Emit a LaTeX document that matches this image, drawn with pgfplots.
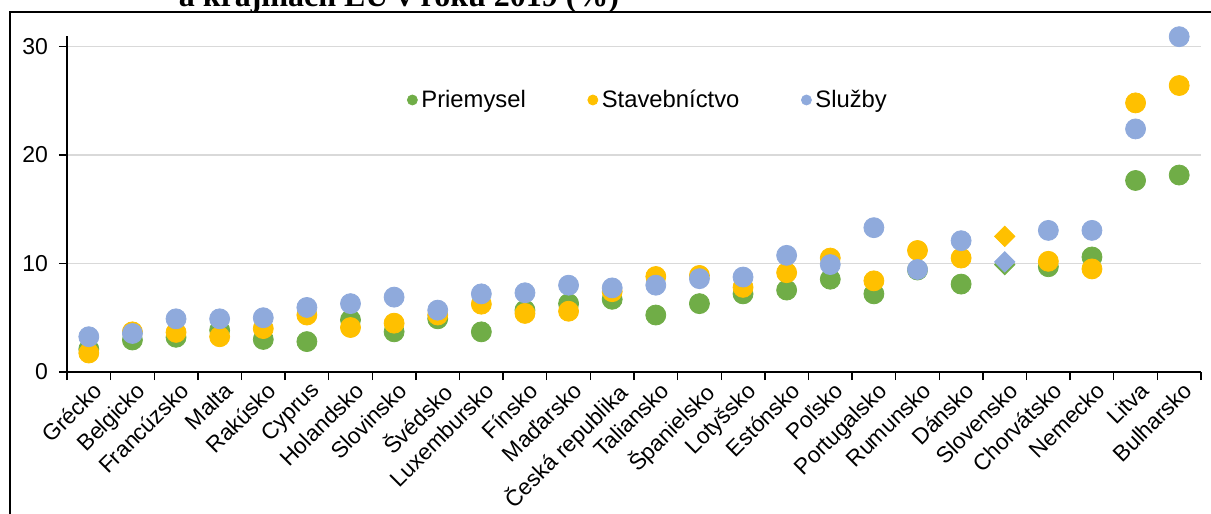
\documentclass[border=0pt]{standalone}
\usepackage{pgfplots}
\pgfplotsset{compat=1.18}
\usepackage{fontspec}
\setmainfont{Liberation Sans}
\newfontfamily\titlefont{Liberation Serif}

\definecolor{cG}{HTML}{70AD47}
\definecolor{cY}{HTML}{FFC000}
\definecolor{cB}{HTML}{8FAADC}
\definecolor{gridc}{HTML}{D9D9D9}

% index, Priemysel, Stavebnictvo, Sluzby (Slovensko = 21, drawn as diamonds)
\begin{document}
\begin{tikzpicture}
\useasboundingbox (-33.5pt,-71pt) rectangle (572pt,186pt);
\draw[line width=1pt] (-28.5pt,-75pt) -- (-28.5pt,180pt) -- (580pt,180pt);
\node[anchor=base, font=\titlefont\bfseries\fontsize{16}{18}\selectfont] at (166pt,182.5pt) {a krajinách EÚ v roku 2019 (\%)};
\begin{axis}[
    at={(0pt,0pt)}, anchor=south west,
    scale only axis,
    width=567pt, height=168.2pt,
    xmin=-0.5, xmax=25.5,
    ymin=0, ymax=31,
    axis x line*=bottom, axis y line*=left,
    axis line style={-},
    x axis line style={line width=1pt},
    y axis line style={line width=0.6pt},
    ytick={0,10,20,30},
    ymajorgrids,
    grid style={gridc, line width=0.8pt},
    tick align=outside,
    major tick length=4pt,
    minor tick length=4pt,
    ytick style={black, line width=0.6pt},
    xtick={0,...,25},
    major x tick style={draw=none},
    minor xtick={-0.5,0.5,...,25.5},
    minor x tick style={black, line width=0.7pt},
    xticklabels={Grécko,Belgicko,Francúzsko,Malta,Rakúsko,Cyprus,Holandsko,Slovinsko,Švédsko,Luxembursko,Fínsko,Maďarsko,Česká republika,Taliansko,Španielsko,Lotyšsko,Estónsko,Poľsko,Portugalsko,Rumunsko,Dánsko,Slovensko,Chorvátsko,Nemecko,Litva,Bulharsko},
    xticklabel style={rotate=45, anchor=north east, font=\fontsize{11.3}{13}\selectfont, inner sep=1pt, xshift=2pt},
    yticklabel style={font=\fontsize{11.5}{13}\selectfont, xshift=-2pt},
    /pgf/number format/assume math mode=true,
    legend style={at={(rel axis cs:0.2998,0.8086)}, anchor=west, draw=none, fill=none,
        inner sep=0pt, font=\fontsize{11.9}{13}\selectfont,
        /tikz/every even column/.append style={column sep=29pt}},
    legend columns=-1,
    legend image code/.code={\draw[mark repeat=2,mark phase=2,#1] plot coordinates {(0pt,0pt) (2.6pt,0pt) (5.2pt,0pt)};},
]
\addlegendimage{only marks, mark=*, mark size=2.5pt, color=cG}
\addlegendentry{Priemysel}
\addlegendimage{only marks, mark=*, mark size=2.5pt, color=cY}
\addlegendentry{Stavebníctvo}
\addlegendimage{only marks, mark=*, mark size=2.5pt, color=cB}
\addlegendentry{Služby}

% Priemysel
\addplot[forget plot, only marks, mark=*, mark size=5pt, color=cG] coordinates {
(0,2.1) (1,2.95) (2,3.2) (3,3.85) (4,3.0) (5,2.8) (6,4.8) (7,3.7) (8,4.9)
(9,3.7) (10,5.7) (11,6.3) (12,6.7) (13,5.25) (14,6.3) (15,7.2) (16,7.55)
(17,8.55) (18,7.2) (19,9.4) (20,8.1) (22,9.7) (23,10.6) (24,17.65) (25,18.15)
};
\addplot[forget plot, only marks, mark=square*, mark size=3.6pt, mark options={rotate=45}, color=cG] coordinates {(21,9.9)};
% Stavebnictvo
\addplot[forget plot, only marks, mark=*, mark size=5pt, color=cY] coordinates {
(0,1.75) (1,3.7) (2,3.65) (3,3.25) (4,4.0) (5,5.25) (6,4.1) (7,4.5) (8,5.25)
(9,6.25) (10,5.4) (11,5.6) (12,7.4) (13,8.8) (14,8.9) (15,7.8) (16,9.15)
(17,10.5) (18,8.4) (19,11.2) (20,10.5) (22,10.2) (23,9.5) (24,24.8) (25,26.4)
};
\addplot[forget plot, only marks, mark=square*, mark size=3.6pt, mark options={rotate=45}, color=cY] coordinates {(21,12.5)};
% Sluzby
\addplot[forget plot, only marks, mark=*, mark size=5pt, color=cB] coordinates {
(0,3.25) (1,3.55) (2,4.9) (3,4.9) (4,5.0) (5,5.95) (6,6.3) (7,6.9) (8,5.7)
(9,7.2) (10,7.3) (11,8.0) (12,7.75) (13,8.0) (14,8.6) (15,8.75) (16,10.75)
(17,9.9) (18,13.3) (19,9.45) (20,12.1) (22,13.05) (23,13.05) (24,22.4) (25,30.9)
};
\addplot[forget plot, only marks, mark=square*, mark size=3.6pt, mark options={rotate=45}, color=cB] coordinates {(21,10.15)};
\end{axis}
\end{tikzpicture}
\end{document}
